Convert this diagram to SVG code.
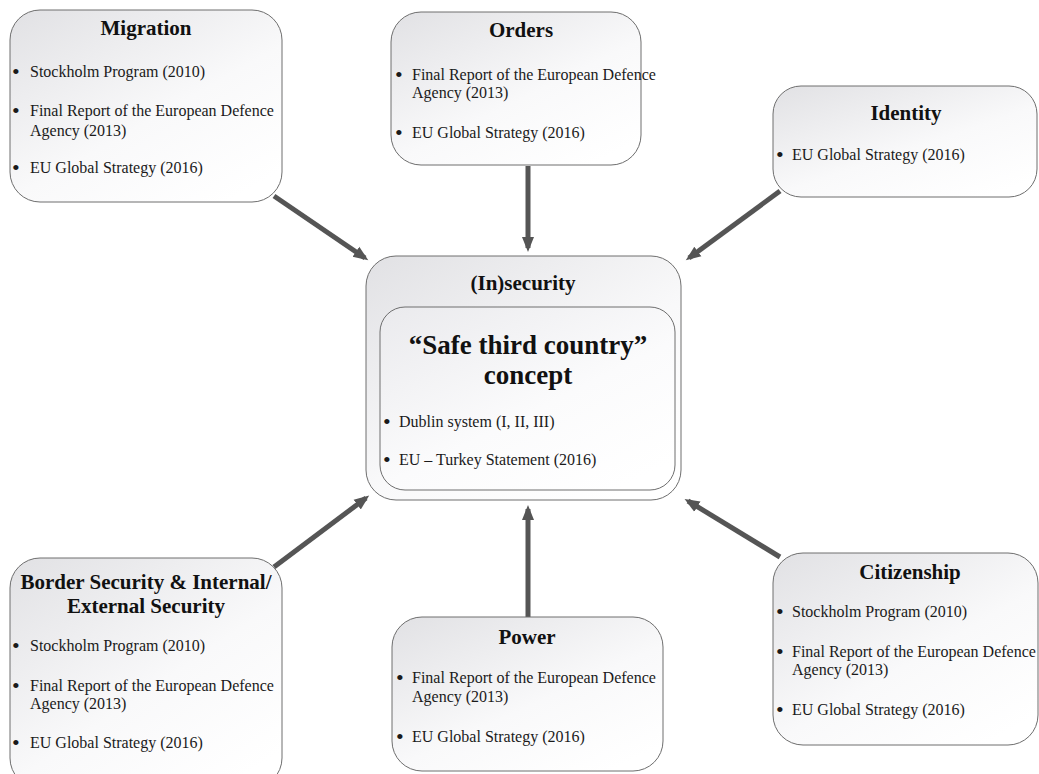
<svg xmlns="http://www.w3.org/2000/svg" width="1039" height="774" viewBox="0 0 1039 774">
<style>
.box{stroke:#6e6e6e;stroke-width:1;fill:url(#g)}
.inner{stroke:#6e6e6e;stroke-width:1;fill:url(#g2)}
.t{font-family:"Liberation Serif","Times New Roman",serif;font-weight:bold;font-size:21px;fill:#111;text-anchor:middle}
.big{font-family:"Liberation Serif","Times New Roman",serif;font-weight:bold;font-size:27px;fill:#111;text-anchor:middle}
.b{font-family:"Liberation Serif","Times New Roman",serif;font-size:16px;fill:#1a1a1a}
.d{font-family:"Liberation Serif","Times New Roman",serif;font-size:22px;fill:#1a1a1a}
.c{stroke:#555;stroke-width:5;fill:none;marker-end:url(#ah)}
</style>
<defs>
<linearGradient id="g" x1="0" y1="0" x2="0.8" y2="1">
<stop offset="0" stop-color="#e1e1e4"/>
<stop offset="0.6" stop-color="#f9f9fa"/>
<stop offset="1" stop-color="#ffffff"/>
</linearGradient>
<linearGradient id="g2" x1="0" y1="0" x2="0.8" y2="1">
<stop offset="0" stop-color="#eaeaed"/>
<stop offset="0.6" stop-color="#fbfbfc"/>
<stop offset="1" stop-color="#ffffff"/>
</linearGradient>
<marker id="ah" markerWidth="4" markerHeight="4" refX="2.2" refY="2" orient="auto" markerUnits="strokeWidth">
<path d="M0,0.8 L3,2 L0,3.2 Z" fill="#555"/>
</marker>
</defs>
<rect width="1039" height="774" fill="#fff"/>
<g id="connectors">
<line class="c" x1="274" y1="196" x2="365" y2="258"/>
<line class="c" x1="528" y1="166" x2="528" y2="248"/>
<line class="c" x1="780" y1="191" x2="689" y2="258"/>
<line class="c" x1="274" y1="567" x2="366" y2="498"/>
<line class="c" x1="528" y1="617" x2="528" y2="509"/>
<line class="c" x1="780" y1="557" x2="688" y2="501"/>
</g>
<g id="migration">
<rect class="box" x="10" y="10" width="272" height="192" rx="30"/>
<text class="t" x="146" y="35">Migration</text>
<text class="d" x="12" y="79">•</text><text class="b" x="30" y="77">Stockholm Program (2010)</text>
<text class="d" x="12" y="118">•</text><text class="b" x="30" y="116">Final Report of the European Defence</text>
<text class="b" x="30" y="136">Agency (2013)</text>
<text class="d" x="12" y="175">•</text><text class="b" x="30" y="173">EU Global Strategy (2016)</text>
</g>
<g id="orders">
<rect class="box" x="391" y="12" width="250" height="153" rx="30"/>
<text class="t" x="521" y="37">Orders</text>
<text class="d" x="395" y="82">•</text><text class="b" x="412" y="80">Final Report of the European Defence</text>
<text class="b" x="412" y="98">Agency (2013)</text>
<text class="d" x="395" y="140">•</text><text class="b" x="412" y="138">EU Global Strategy (2016)</text>
</g>
<g id="identity">
<rect class="box" x="773" y="86" width="264" height="111" rx="28"/>
<text class="t" x="906" y="120">Identity</text>
<text class="d" x="776" y="162">•</text><text class="b" x="792" y="160">EU Global Strategy (2016)</text>
</g>
<g id="insecurity">
<rect class="box" x="366" y="256" width="315" height="244" rx="30"/>
<text class="t" x="523" y="290">(In)security</text>
<g id="safe-third-country">
<rect class="inner" x="380" y="307" width="295" height="183" rx="25"/>
<text class="big" x="528" y="354">“Safe third country”</text>
<text class="big" x="528" y="384">concept</text>
<text class="d" x="383" y="429">•</text><text class="b" x="399" y="427">Dublin system (I, II, III)</text>
<text class="d" x="383" y="467">•</text><text class="b" x="399" y="465">EU – Turkey Statement (2016)</text>
</g>
</g>
<g id="border-security">
<rect class="box" x="10" y="558" width="272" height="230" rx="30"/>
<text class="t" x="146" y="589">Border Security &amp; Internal/</text>
<text class="t" x="146" y="613">External Security</text>
<text class="d" x="12" y="653">•</text><text class="b" x="30" y="651">Stockholm Program (2010)</text>
<text class="d" x="12" y="693">•</text><text class="b" x="30" y="691">Final Report of the European Defence</text>
<text class="b" x="30" y="709">Agency (2013)</text>
<text class="d" x="12" y="750">•</text><text class="b" x="30" y="748">EU Global Strategy (2016)</text>
</g>
<g id="power">
<rect class="box" x="392" y="617" width="271" height="154" rx="30"/>
<text class="t" x="527" y="644">Power</text>
<text class="d" x="396" y="685">•</text><text class="b" x="412" y="683">Final Report of the European Defence</text>
<text class="b" x="412" y="702">Agency (2013)</text>
<text class="d" x="396" y="744">•</text><text class="b" x="412" y="742">EU Global Strategy (2016)</text>
</g>
<g id="citizenship">
<rect class="box" x="773" y="553" width="265" height="192" rx="30"/>
<text class="t" x="910" y="579">Citizenship</text>
<text class="d" x="776" y="619">•</text><text class="b" x="792" y="617">Stockholm Program (2010)</text>
<text class="d" x="776" y="659">•</text><text class="b" x="792" y="657">Final Report of the European Defence</text>
<text class="b" x="792" y="675">Agency (2013)</text>
<text class="d" x="776" y="717">•</text><text class="b" x="792" y="715">EU Global Strategy (2016)</text>
</g>
</svg>
